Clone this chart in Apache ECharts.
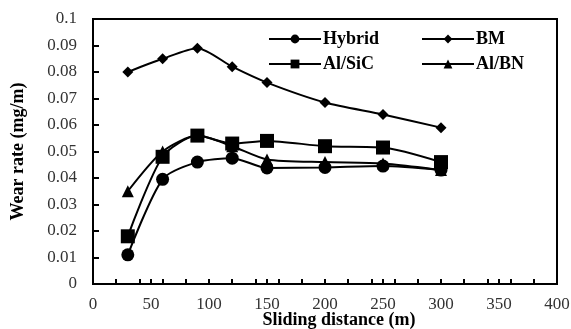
<!DOCTYPE html>
<html>
<head>
<meta charset="utf-8">
<script src="https://cdn.jsdelivr.net/npm/echarts@6/dist/echarts.min.js"></script>
<style>
html,body{margin:0;padding:0;background:#fff;}
#main{width:571px;height:329px;}
</style>
</head>
<body>
<div id="main"></div>
<script>
var distance = [30, 60, 90, 120, 150, 200, 250, 300];
var hybrid = [0.011, 0.0395, 0.046, 0.0475, 0.0438, 0.044, 0.0445, 0.043];
var bm = [0.080, 0.085, 0.089, 0.082, 0.076, 0.0685, 0.064, 0.059];
var alSiC = [0.018, 0.048, 0.056, 0.053, 0.054, 0.052, 0.0515, 0.046];
var alBN = [0.035, 0.050, 0.056, 0.052, 0.047, 0.046, 0.0455, 0.043];

var serif = 'Liberation Serif';

function pairs(ys){
	var out = [];
	for (var i = 0; i < distance.length; i++) {
		out.push([distance[i], ys[i]]);
	}
	return out;
}

function makeSeries(name, ys, symbol, size){
	return {
		name: name,
		type: 'line',
		data: pairs(ys),
		smooth: 0.25,
		symbol: symbol,
		symbolSize: size,
		lineStyle: {color: '#000', width: 2},
		itemStyle: {color: '#000'}
	};
}

function makeLegend(name, left, top){
	return {
		data: [name],
		left: left,
		top: top,
		itemWidth: 52,
		itemHeight: 11,
		itemGap: 0,
		textStyle: {fontFamily: serif, fontWeight: 'bold', fontSize: 18, color: '#000', padding: [0,0,0,-3]}
	};
}

var myChart = echarts.init(document.getElementById("main"));

var option = {
	animation: false,
	backgroundColor: '#fff',
	grid: {left: 93, right: 14, top: 19, bottom: 45, show: true, borderColor: '#000', borderWidth: 2,
		containLabel: false, outerBoundsMode: 'none'},
	legend: [
		makeLegend('Hybrid', 263, 25),
		makeLegend('BM', 416, 25),
		makeLegend('Al/SiC', 263, 50),
		makeLegend('Al/BN', 416, 50)
	],
	xAxis: [{
		type: 'value',
		min: 0,
		max: 400,
		interval: 50,
		name: 'Sliding distance (m)',
		nameLocation: 'middle',
		nameGap: 27,
		nameMoveOverlap: false,
		nameTextStyle: {fontFamily: serif, fontWeight: 'bold', fontSize: 18, color: '#000', padding: [0,0,0,28]},
		axisLine: {lineStyle: {color: '#000', width: 2}},
		axisTick: {inside: true, length: 5, lineStyle: {color: '#000', width: 2}},
		axisLabel: {fontFamily: serif, fontSize: 17, color: '#333', margin: 12},
		splitLine: {show: false}
	}, {
		type: 'value',
		min: 0,
		max: 400,
		interval: 20,
		position: 'bottom',
		axisLine: {show: false},
		axisTick: {inside: true, length: 5, lineStyle: {color: '#000', width: 2}},
		axisLabel: {show: false},
		splitLine: {show: false}
	}],
	yAxis: {
		type: 'value',
		min: 0,
		max: 0.1,
		interval: 0.01,
		name: 'Wear rate (mg/m)',
		nameLocation: 'middle',
		nameGap: 66,
		nameMoveOverlap: false,
		nameTextStyle: {fontFamily: serif, fontWeight: 'bold', fontSize: 18, color: '#000'},
		axisLine: {lineStyle: {color: '#000', width: 2}},
		axisTick: {inside: true, length: 6, lineStyle: {color: '#000', width: 2}},
		axisLabel: {fontFamily: serif, fontSize: 17, color: '#333', margin: 16,
			formatter: function(v){ return String(+v.toFixed(2)); }},
		splitLine: {show: false}
	},
	series: [
		makeSeries('Hybrid', hybrid, 'circle', 13),
		makeSeries('BM', bm, 'diamond', 11),
		makeSeries('Al/SiC', alSiC, 'rect', 14),
		makeSeries('Al/BN', alBN, 'triangle', 12)
	]
};
myChart.setOption(option);
</script>
</body>
</html>
